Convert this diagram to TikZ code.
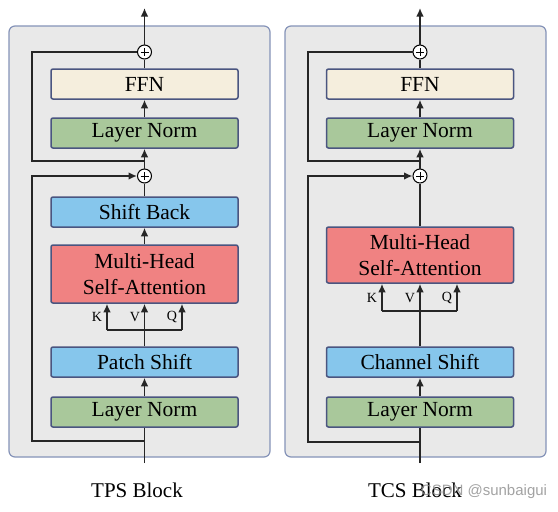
\documentclass[tikz,border=0pt]{standalone}
\usepackage{fontspec}
\setmainfont{Liberation Serif}
\newfontfamily\wmfont{Liberation Sans}
\usetikzlibrary{arrows.meta}
\definecolor{panelfill}{HTML}{E9E9E9}
\definecolor{paneldraw}{HTML}{8593B8}
\definecolor{boxdraw}{HTML}{4A5580}
\definecolor{ffncol}{HTML}{F5EEDD}
\definecolor{lncol}{HTML}{A9C89B}
\definecolor{shiftcol}{HTML}{86C6EC}
\definecolor{attcol}{HTML}{F08282}
\tikzset{
  panel/.style={draw=paneldraw, fill=panelfill, line width=1.2pt, rounded corners=6pt},
  blk/.style={draw=boxdraw, line width=1.5pt, rounded corners=2pt, minimum width=187pt, minimum height=30pt, inner sep=0pt, font=\fontsize{21.5}{26}\selectfont, align=center},
  ffnbox/.style={blk, fill=ffncol},
  lnbox/.style={blk, fill=lncol},
  shiftbox/.style={blk, fill=shiftcol},
  attbox/.style={blk, fill=attcol},
  addop/.style={circle, draw=black, fill=white, line width=1pt, minimum size=14pt, inner sep=0pt,
    path picture={\draw[line width=0.8pt] ([yshift=-3pt]path picture bounding box.north) -- ([yshift=3pt]path picture bounding box.south);
                  \draw[line width=0.8pt] ([xshift=3pt]path picture bounding box.west) -- ([xshift=-3pt]path picture bounding box.east);}},
  wire/.style={line width=1.5pt, draw=black!85},
  arr/.style={wire, -{Latex[length=8.5pt,width=7.5pt]}},
  kvq/.style={font=\fontsize{14}{15}\selectfont, inner sep=0pt},
  caption/.style={font=\fontsize{21}{24}\selectfont, inner sep=0pt}
}
\begin{document}
\begin{tikzpicture}[x=1pt,y=-1pt]
\useasboundingbox (0,0) rectangle (558,512);
\fill[white] (0,0) rectangle (558,512);
% ---------------- Left panel (TPS) ----------------
\draw[panel] (9,26) rectangle (270,457);
\node[ffnbox] (ffnL) at (144.5,84) {FFN};
\node[lnbox] (lnaL) at (144.5,133) {Layer Norm};
\node[shiftbox] (sbL) at (144.5,212) {Shift Back};
\node[attbox, minimum height=58pt] (mhsaL) at (144.5,274) {Multi-Head\\Self-Attention};
\node[shiftbox] (psL) at (144.5,362) {Patch Shift};
\node[lnbox] (lnbL) at (144.5,412) {Layer Norm};
\node[addop] (p1L) at (144.5,52) {};
\node[addop] (p2L) at (144.5,176) {};
\coordinate (inL) at (144.5,463);
\coordinate (outL) at (144.5,8);
\coordinate (barL) at (144.5,330);
\coordinate (kL) at (107,330);
\coordinate (qL) at (182,330);
\coordinate (s1L) at (144.5,441);
\coordinate (s1aL) at (32,441);
\coordinate (s1bL) at (32,176);
\coordinate (s2L) at (144.5,161);
\coordinate (s2aL) at (32,161);
\coordinate (s2bL) at (32,52);
\draw[wire] (inL) -- (lnbL.south);
\draw[arr] (lnbL) -- (psL);
\draw[wire] (psL.north) -- (barL);
\draw[wire] (kL) -- (qL);
\draw[arr] (kL) -- (kL |- mhsaL.south);
\draw[arr] (barL) -- (mhsaL.south);
\draw[arr] (qL) -- (qL |- mhsaL.south);
\node[kvq] (kLl) at (97,317) {K};
\node[kvq] (vLl) at (135,317) {V};
\node[kvq] (qLl) at (172,317) {Q};
\draw[arr] (mhsaL) -- (sbL);
\draw[wire] (sbL) -- (p2L);
\draw[arr] (s1L) -- (s1aL) -- (s1bL) -- (p2L.west);
\draw[arr] (p2L) -- (lnaL);
\draw[arr] (lnaL) -- (ffnL);
\draw[wire] (ffnL) -- (p1L);
\draw[wire] (s2L) -- (s2aL) -- (s2bL) -- (p1L.west);
\draw[arr] (p1L) -- (outL);
\node[caption] (capL) at (137,490) {TPS Block};
% ---------------- Right panel (TCS) ----------------
\draw[panel] (285,26) rectangle (546,457);
\node[ffnbox] (ffnR) at (420,84) {FFN};
\node[lnbox] (lnaR) at (420,133) {Layer Norm};
\node[attbox, minimum height=56pt] (mhsaR) at (420,255) {Multi-Head\\Self-Attention};
\node[shiftbox] (csR) at (420,362) {Channel Shift};
\node[lnbox] (lnbR) at (420,412) {Layer Norm};
\node[addop] (p1R) at (420,52) {};
\node[addop] (p2R) at (420,176) {};
\coordinate (inR) at (420,463);
\coordinate (outR) at (420,8);
\coordinate (barR) at (420,311);
\coordinate (kR) at (382,311);
\coordinate (qR) at (457,311);
\coordinate (s1R) at (420,442);
\coordinate (s1aR) at (308,442);
\coordinate (s1bR) at (308,176);
\coordinate (s2R) at (420,161);
\coordinate (s2aR) at (308,161);
\coordinate (s2bR) at (308,52);
\draw[wire] (inR) -- (lnbR.south);
\draw[arr] (lnbR) -- (csR);
\draw[wire] (csR.north) -- (barR);
\draw[wire] (kR) -- (qR);
\draw[arr] (kR) -- (kR |- mhsaR.south);
\draw[arr] (barR) -- (mhsaR.south);
\draw[arr] (qR) -- (qR |- mhsaR.south);
\node[kvq] (kRl) at (372,298) {K};
\node[kvq] (vRl) at (410,298) {V};
\node[kvq] (qRl) at (447,298) {Q};
\draw[wire] (mhsaR) -- (p2R);
\draw[arr] (s1R) -- (s1aR) -- (s1bR) -- (p2R.west);
\draw[arr] (p2R) -- (lnaR);
\draw[arr] (lnaR) -- (ffnR);
\draw[wire] (ffnR) -- (p1R);
\draw[wire] (s2R) -- (s2aR) -- (s2bR) -- (p1R.west);
\draw[arr] (p1R) -- (outR);
\node[caption] (capR) at (415,490) {TCS Block};
\node[font=\wmfont\fontsize{15}{16}\selectfont, text=black!45, opacity=0.8, inner sep=0pt] (wm) at (484,492) {CSDN @sunbaigui};
\end{tikzpicture}
\end{document}
